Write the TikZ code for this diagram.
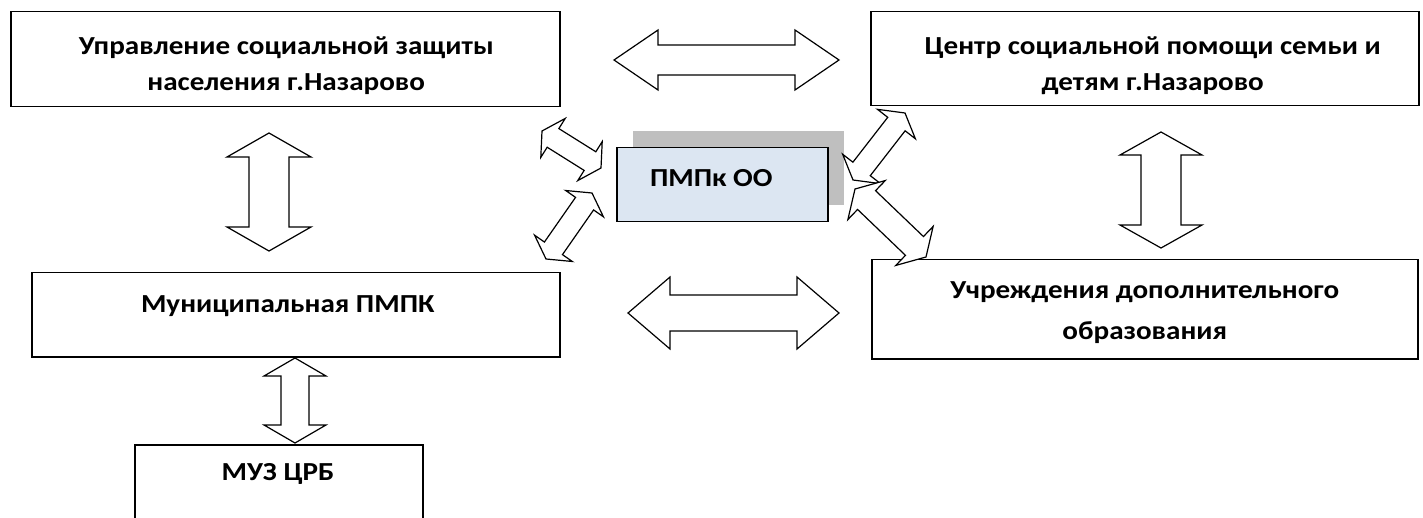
\documentclass[tikz,border=0pt]{standalone}
\usepackage{fontspec}
\setmainfont{Carlito}[FakeStretch=1.12]
\usetikzlibrary{calc,shadows}
\definecolor{pmpkblue}{HTML}{DCE6F2}

% double block arrow between two named points:
% #1,#2 tips, #3 head length, #4 half head width, #5 half shaft width
\newcommand{\dblarrow}[5]{%
  \draw[blockarrow] (#1)
    -- ($(#1)!#3pt!(#2)!#4pt!90:(#2)$)
    -- ($(#1)!#3pt!(#2)!#5pt!90:(#2)$)
    -- ($(#2)!#3pt!(#1)!#5pt!-90:(#1)$)
    -- ($(#2)!#3pt!(#1)!#4pt!-90:(#1)$)
    -- (#2)
    -- ($(#2)!#3pt!(#1)!#4pt!90:(#1)$)
    -- ($(#2)!#3pt!(#1)!#5pt!90:(#1)$)
    -- ($(#1)!#3pt!(#2)!#5pt!-90:(#2)$)
    -- ($(#1)!#3pt!(#2)!#4pt!-90:(#2)$)
    -- cycle;}

\begin{document}
\begin{tikzpicture}[x=1pt,y=-1pt,
    box/.style = {draw, line width=1.5pt, rectangle, anchor=north west, inner sep=0pt},
    txt/.style = {align=center, font=\bfseries\fontsize{26}{36}\selectfont},
    blockarrow/.style = {draw, fill=white, line width=1.2pt, line join=miter}]
  \useasboundingbox (0,0) rectangle (1423,518);
  \clip (0,0) rectangle (1423,518);

  \node[box, minimum width=549, minimum height=95] (1) at (10,11) {};
  \node[box, minimum width=548, minimum height=94] (2) at (870,11) {};
  \node[box, minimum width=528, minimum height=84] (3) at (31,272) {};
  \node[box, minimum width=546, minimum height=99] (4) at (871,259) {};
  \node[box, minimum width=288, minimum height=130] (5) at (134,444) {};
  \node[box, fill=pmpkblue, minimum width=211, minimum height=74,
        general shadow={fill=black!25, shadow xshift=16pt, shadow yshift=17pt}] (6) at (616,147) {};

  \node[txt] (t1) at ($(1)+(1,6)$) {Управление социальной защиты\\населения г.Назарово};
  \node[txt] (t2) at ($(2)+(8,7)$) {Центр социальной помощи семьи и\\детям г.Назарово};
  \node[txt] (t3) at ($(3)+(-8,-9)$) {Муниципальная ПМПК};
  \node[txt] (t4) at ($(4)+(0,3)$) {Учреждения дополнительного\\[5pt]образования};
  \node[txt] (t5) at (278,474) {МУЗ ЦРБ};
  \node[txt] (t6) at ($(6)+(-11,-7)$) {ПМПк ОО};

  % horizontal arrows
  \coordinate (h1) at (614,60);  \coordinate (h2) at (839,60);
  \coordinate (h3) at (628,313); \coordinate (h4) at (839,313);
  \dblarrow{h1}{h2}{44}{30}{15}
  \dblarrow{h3}{h4}{42}{36}{18}
  % vertical arrows
  \coordinate (v1) at (269,133);  \coordinate (v2) at (269,251);
  \coordinate (v3) at (1161,132); \coordinate (v4) at (1161,248);
  \coordinate (v5) at (295,358);  \coordinate (v6) at (295,443);
  \dblarrow{v1}{v2}{24}{42}{20}
  \dblarrow{v3}{v4}{23}{41}{20}
  \dblarrow{v5}{v6}{18}{31}{14}
  % arrows round the centre box
  \coordinate (d1) at (542,131); \coordinate (d2) at (601,168);
  \coordinate (d3) at (546,259); \coordinate (d4) at (592,193);
  \coordinate (d5) at (853,180); \coordinate (d6) at (905,113);
  \coordinate (d7) at (855,189); \coordinate (d8) at (926,257);
  \dblarrow{d1}{d2}{13}{23}{11}
  \dblarrow{d3}{d4}{13}{23}{11}
  \dblarrow{d5}{d6}{14}{24}{11}
  \dblarrow{d7}{d8}{16}{27}{13}
\end{tikzpicture}
\end{document}
